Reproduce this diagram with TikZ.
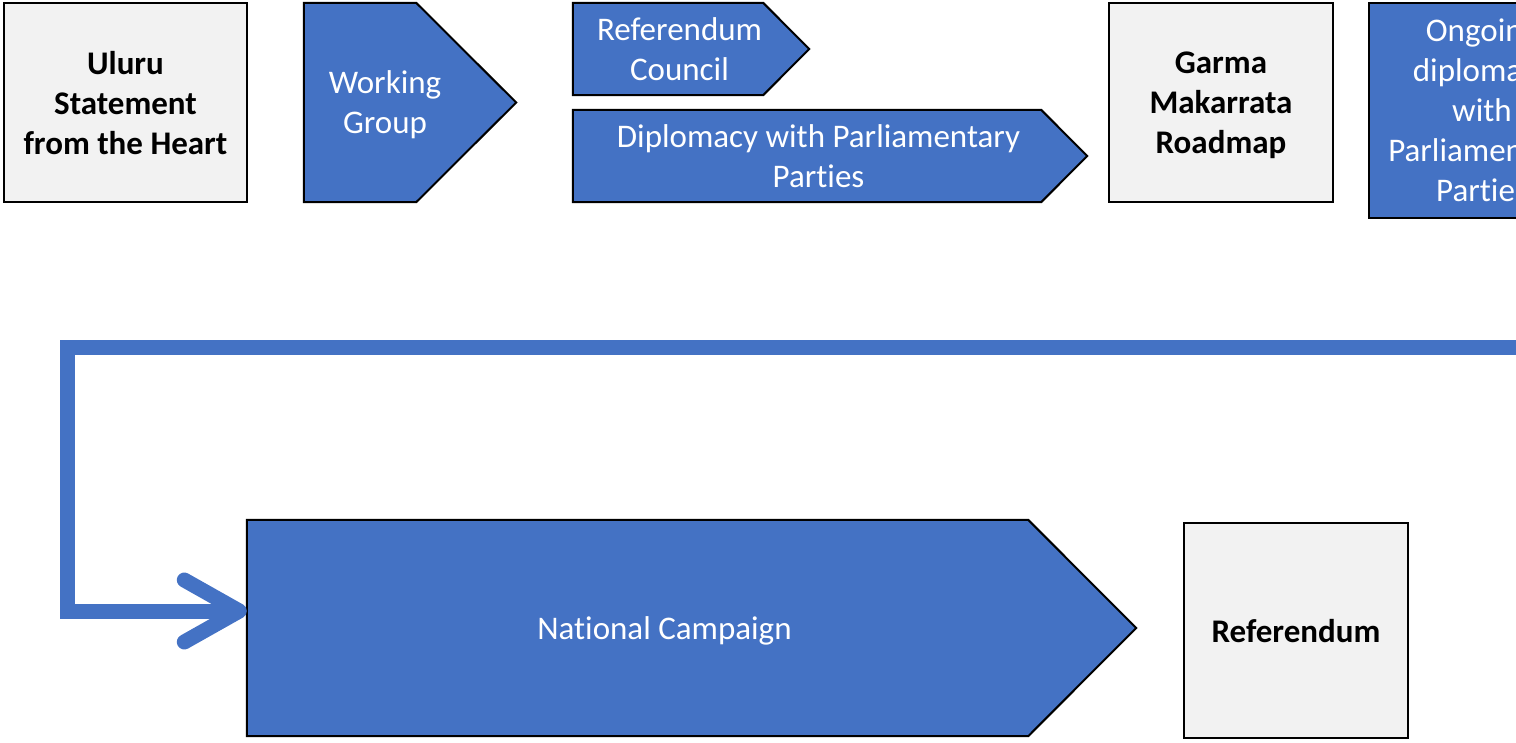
\documentclass[tikz,border=0pt]{standalone}
\usepackage{fontspec}
\setmainfont[Ligatures=NoCommon]{Carlito}
\usetikzlibrary{arrows.meta,backgrounds}

\definecolor{stageblue}{HTML}{4472C4}
\definecolor{milestonegray}{HTML}{F2F2F2}

\tikzset{
  milestone/.style={rectangle, draw=black, line width=2pt, fill=milestonegray,
    align=center, inner sep=0pt, text depth=0pt,
    font=\fontsize{33}{40}\selectfont\bfseries},
  stage/.style={rectangle, align=center, text=white, inner sep=0pt, text depth=0pt,
    font=\fontsize{33}{40}\selectfont},
  stageshape/.style={draw=black, line width=2pt, fill=stageblue},
  flow/.style={draw=stageblue, line width=15pt,
    -{Straight Barb[length=55pt, width=62pt, round]}}
}

% outline of an arrow-shaped stage behind its node (name, quarter of height)
\newcommand{\stageoutline}[2]{%
  \begin{pgfonlayer}{background}
    \draw[stageshape] (#1.north west) -- ([xshift=-#2]#1.north east)
      -- ([xshift=#2]#1.east) -- ([xshift=-#2]#1.south east)
      -- (#1.south west) -- cycle;
  \end{pgfonlayer}}

\begin{document}
\begin{tikzpicture}[x=1pt, y=-1pt]
    \useasboundingbox (0,0) rectangle (1516,742);
    \clip (0,0) rectangle (1516,742);
    % top row
    \node[milestone, minimum width=243pt, minimum height=199pt] (uluru) at (125.5,102.5)
        {Uluru\\Statement\\from the Heart};
    \node[stage, minimum width=162pt, minimum height=199pt] (working) at (385,102.5)
        {Working\\Group};
    \stageoutline{working}{50pt}
    \node[stage, minimum width=213pt, minimum height=92pt] (council) at (679.5,49)
        {Referendum\\Council};
    \stageoutline{council}{23pt}
    \node[stage, minimum width=491pt, minimum height=92pt] (diplomacy) at (818.5,156)
        {Diplomacy with Parliamentary\\Parties};
    \stageoutline{diplomacy}{23pt}
    \node[milestone, minimum width=224pt, minimum height=199pt] (garma) at (1221,102.5)
        {Garma\\Makarrata\\Roadmap};
    \node[stage, draw=black, line width=2pt, fill=stageblue, minimum width=226pt,
        minimum height=215pt] (ongoing) at (1482,110.5)
        {Ongoing\\diplomacy\\with\\Parliamentary\\Parties};
    % bottom row
    \node[stage, minimum width=835pt, minimum height=216pt] (campaign) at (664.5,628)
        {National Campaign};
    \stageoutline{campaign}{54pt}
    \node[milestone, minimum width=224pt, minimum height=215pt] (referendum) at (1296,630.5)
        {Referendum};
    % wrap-around connector
    \coordinate (wrap) at (1560,347);
    \coordinate (bend) at (67.5,347);
    \draw[flow] (wrap) -- (bend) |- ([yshift=17pt]campaign.west);
\end{tikzpicture}
\end{document}
